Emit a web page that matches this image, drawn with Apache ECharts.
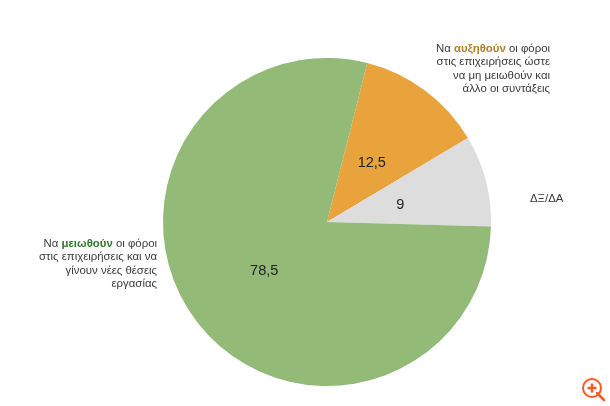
<!DOCTYPE html>
<html><head><meta charset="utf-8">
<style>html,body{margin:0;padding:0;background:#fff}#c{width:610px;height:406px}</style>
<script src="https://cdn.jsdelivr.net/npm/echarts@6/dist/echarts.min.js"></script>
</head><body><div id="c"></div>
<script>
const categories = ['Αύξηση', 'ΔΞ/ΔΑ', 'Μείωση'];
const values = [12.5, 9, 78.5];
const colors = ['#E9A33D', '#DDDDDD', '#93BA77'];
const labelOffsets = [[-6, 9], [-9, 4], [5, -2]];
const upLines = ['{n|Να }{b|αυξηθούν}{n| οι φόροι}', '{n|στις επιχειρήσεις ώστε}', '{n|να μη μειωθούν και}', '{n|άλλο οι συντάξεις}'];
const downLines = ['{n|Να }{b|μειωθούν}{n| οι φόροι}', '{n|στις επιχειρήσεις και να}', '{n|γίνουν νέες θέσεις}', '{n|εργασίας}'];
const font = '"Liberation Sans", Arial, sans-serif';
const txt = '#3a3a3a';
const chart = echarts.init(document.getElementById('c'), null, {renderer: 'canvas'});
function block(lines, rightEdge, top, boldColor) {
  return lines.map((line, i) => ({
    type: 'text', x: rightEdge, y: top + i * 13.6, z: 10,
    style: {
      text: line, align: 'right', verticalAlign: 'top', font: '11.4px ' + font, fill: txt,
      rich: {
        b: {fontWeight: 'bold', fontSize: 11.4, fontFamily: font, fill: boldColor},
        n: {fontSize: 11.4, fontFamily: font, fill: txt}
      }
    }
  }));
}
chart.setOption({
  animation: false,
  backgroundColor: '#fff',
  series: [{
    type: 'pie',
    center: [327, 222],
    radius: [0, 164],
    startAngle: 75.8,
    clockwise: true,
    silent: true,
    itemStyle: {borderWidth: 0},
    data: categories.map((name, i) => ({name, value: values[i], itemStyle: {color: colors[i]}})),
    label: {
      show: true, position: 'inside', fontFamily: font, fontSize: 14.5, color: '#222',
      formatter: p => String(p.value).replace('.', ',')
    },
    labelLine: {show: false},
    labelLayout: p => ({dx: labelOffsets[p.dataIndex][0], dy: labelOffsets[p.dataIndex][1]})
  }],
  graphic: [
    ...block(upLines, 550, 43, '#B47F27'),
    ...block(downLines, 157, 238, '#2F7A2F'),
    {type: 'text', x: 530, y: 193, style: {text: 'ΔΞ/ΔΑ', font: '11.4px ' + font, fill: txt}},
    {type: 'group', x: 582, y: 378, silent: true, children: [
      {type: 'line', shape: {x1: 15, y1: 15, x2: 22, y2: 22}, style: {stroke: '#FF5722', lineWidth: 2.5, lineCap: 'round'}},
      {type: 'circle', shape: {cx: 10, cy: 10, r: 9}, style: {fill: 'none', stroke: '#FF5722', lineWidth: 2}},
      {type: 'line', shape: {x1: 5.5, y1: 10, x2: 14.5, y2: 10}, style: {stroke: '#FF5722', lineWidth: 2.5}},
      {type: 'line', shape: {x1: 10, y1: 5.5, x2: 10, y2: 14.5}, style: {stroke: '#FF5722', lineWidth: 2.5}}
    ]}
  ]
});
</script></body></html>
